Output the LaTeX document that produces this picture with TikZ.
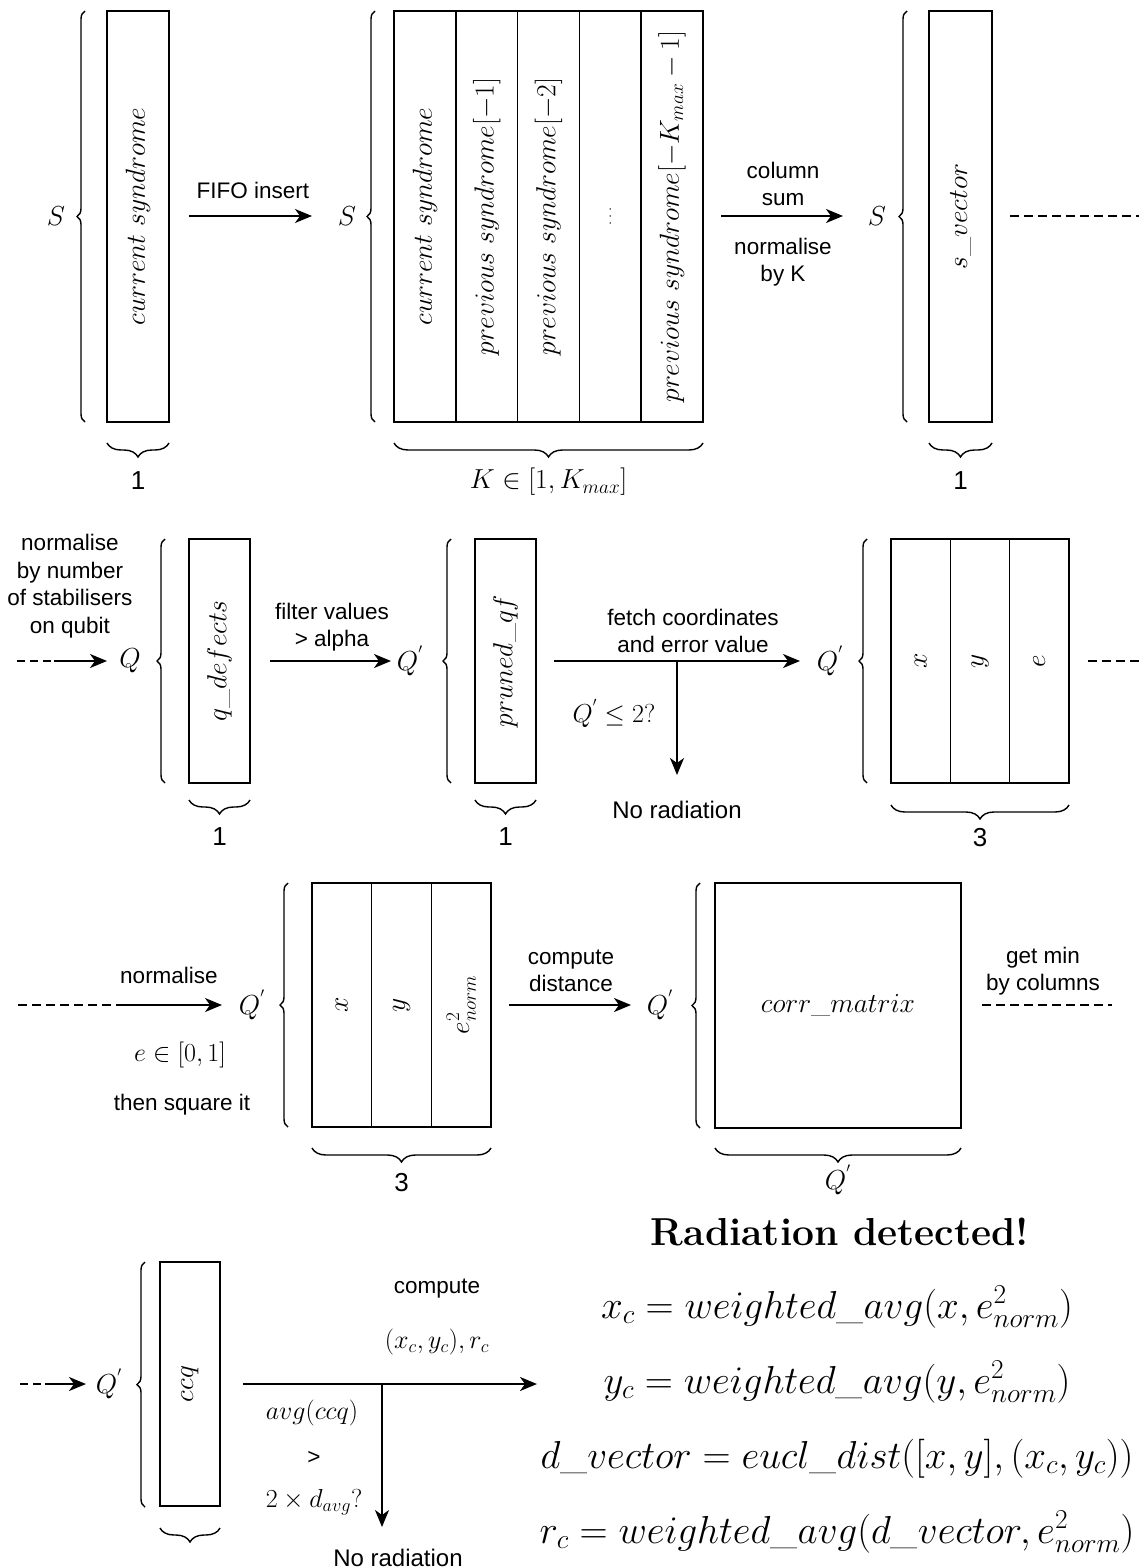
\documentclass[tikz,border=0pt]{standalone}
\usepackage{fix-cm}
\usepackage{fontspec}
\setsansfont{Liberation Sans}
\usetikzlibrary{decorations.pathreplacing,arrows.meta}
\newcommand\mymath{\fontsize{27.5}{32}\selectfont}
\newcommand\mysans{\sffamily\fontsize{22.5}{27.5}\selectfont}
\begin{document}
\begin{tikzpicture}[x=1pt,y=-1pt,
 col/.style 2 args={draw, line width=1.6pt, rotate=90, minimum width=#1pt, minimum height=#2pt, inner sep=0pt, font=\mymath},
 lbr/.style={decorate, decoration={brace, amplitude=8pt}, line width=1.4pt},
 bbr/.style={decorate, decoration={brace, amplitude=14pt}, line width=1.4pt},
 arr/.style={line width=1.8pt, -{Stealth[length=17pt,width=14pt,inset=5pt]}},
 dsh/.style={line width=1.4pt, dash pattern=on 9pt off 5pt},
 lbl/.style={font=\mysans, align=center, inner sep=0pt},
 mlbl/.style={font=\fontsize{26}{30}\selectfont, inner sep=0pt},
 bigm/.style={font=\mymath, inner sep=0pt},
 numl/.style={font=\sffamily\fontsize{26}{30}\selectfont, inner sep=0pt},
 eqn/.style={font=\fontsize{39}{44}\selectfont, inner sep=0pt, anchor=base},
]
\useasboundingbox (0,0) rectangle (1139,1568);

% ---------------- Row 1 ----------------
\node[bigm] (S1) at (56,216.5) {$S$};
\draw[lbr] (85,422) -- (85,11);
\node[col={411}{62}] (cs) at (138,216.5) {$current\ syndrome$};
\draw[bbr] (169,443) -- (107,443);
\node[numl] (one1) at (138,481) {1};

\coordinate (f1) at (189,216);
\coordinate (f2) at (312,216);
\draw[arr] (f1) -- (f2);
\node[lbl] (fifo) at (253,190) {FIFO insert};

\node[bigm] (S2) at (347,216.5) {$S$};
\draw[lbr] (375,422) -- (375,11);
\node[col={411}{61.8}] (k1) at (424.9,216.5) {$current\ syndrome$};
\node[col={411}{61.8}] (k2) at (486.7,216.5) {$previous\ syndrome[-1]$};
\node[col={411}{61.8}] (k3) at (548.5,216.5) {$previous\ syndrome[-2]$};
\node[col={411}{61.8}, font=\fontsize{15}{18}\selectfont] (k4) at (610.3,216.5) {$\dots$};
\node[col={411}{61.8}] (k5) at (672.1,216.5) {$previous\ syndrome[-K_{max}-1]$};
\draw[bbr] (703,443) -- (394,443);
\node[bigm] (kl) at (548.5,482) {$K\in[1,K_{max}]$};

\coordinate (c1) at (721,216);
\coordinate (c2) at (843,216);
\draw[arr] (c1) -- (c2);
\node[lbl] (colsum) at (783,184) {column\\sum};
\node[lbl] (normk) at (783,262) {normalise\\by K};

\node[bigm] (S3) at (877,216.5) {$S$};
\draw[lbr] (907,422) -- (907,11);
\node[col={411}{63}] (sv) at (960.5,216.5) {$s\_vector$};
\draw[bbr] (992,443) -- (929,443);
\node[numl] (one2) at (960.5,481) {1};
\coordinate (d1a) at (1010,216);
\coordinate (d1b) at (1139,216);
\draw[dsh] (d1a) -- (d1b);

% ---------------- Row 2 ----------------
\node[lbl] (nbn) at (70,586) {normalise\\by number\\of stabilisers\\on qubit};
\coordinate (d2a) at (17,661);
\coordinate (d2b) at (54,661);
\coordinate (d2c) at (107,661);
\draw[dsh, dash pattern=on 8pt off 5pt] (d2a) -- (d2b);
\draw[arr] (d2b) -- (d2c);
\node[bigm] (Q1) at (130,661) {$Q$};
\draw[lbr] (165,783) -- (165,539);
\node[col={244}{61}] (qd) at (219.5,661) {$q\_defects$};
\draw[bbr] (250,800) -- (189,800);
\node[numl] (one3) at (219.5,837) {1};

\coordinate (fv1) at (270,661);
\coordinate (fv2) at (391,661);
\draw[arr] (fv1) -- (fv2);
\node[lbl] (filt) at (332,627) {filter values\\> alpha};

\node[bigm] (Q2) at (410,661) {$Q^{'}$};
\draw[lbr] (451,783) -- (451,539);
\node[col={244}{61}] (pq) at (505.5,661) {$pruned\_qf$};
\draw[bbr] (536,800) -- (475,800);
\node[numl] (one4) at (505.5,837) {1};

\coordinate (fc1) at (554,661);
\coordinate (fc2) at (800,661);
\coordinate (br1) at (677,661);
\coordinate (br1e) at (677,775);
\draw[arr] (fc1) -- (fc2);
\draw[arr] (br1) -- (br1e);
\node[lbl] (fetch) at (693,631) {fetch coordinates\\and error value};
\node[mlbl] (cond1) at (614,713) {$Q^{'}\leq 2?$};
\node[lbl, font=\sffamily\fontsize{24}{28}\selectfont] (nr1) at (677,810) {No radiation};

\node[bigm] (Q3) at (830,661) {$Q^{'}$};
\draw[lbr] (867,783) -- (867,539);
\node[col={244}{59.33}] (x1) at (920.7,661) {$x$};
\node[col={244}{59.33}] (y1) at (980,661) {$y$};
\node[col={244}{59.33}] (e1) at (1039.3,661) {$e$};
\draw[bbr] (1069,805) -- (891,805);
\node[numl] (three1) at (980,838) {3};
\coordinate (d3a) at (1088,661);
\coordinate (d3b) at (1139,661);
\draw[dsh] (d3a) -- (d3b);

% ---------------- Row 3 ----------------
\coordinate (d4a) at (18,1005);
\coordinate (d4b) at (118,1005);
\coordinate (d4c) at (222,1005);
\draw[dsh] (d4a) -- (d4b);
\draw[arr] (d4b) -- (d4c);
\node[lbl] (norm2) at (169,975) {normalise};
\node[mlbl] (erng) at (180,1055) {$e\in[0,1]$};
\node[lbl] (sq) at (182,1105) {then square it};

\node[bigm] (Q4) at (252,1005) {$Q^{'}$};
\draw[lbr] (288,1127) -- (288,883);
\node[col={244}{59.67}] (x2) at (341.8,1005) {$x$};
\node[col={244}{59.67}] (y2) at (401.5,1005) {$y$};
\node[col={244}{59.67}] (e2) at (461.2,1005) {$e^2_{norm}$};
\draw[bbr] (491,1148) -- (312,1148);
\node[numl] (three2) at (401.5,1183) {3};

\coordinate (cd1) at (509,1005);
\coordinate (cd2) at (631,1005);
\draw[arr] (cd1) -- (cd2);
\node[lbl] (cdist) at (571,971) {compute\\distance};

\node[bigm] (Q5) at (660,1005) {$Q^{'}$};
\draw[lbr] (700,1128) -- (700,883);
\node[draw, line width=1.6pt, minimum width=246pt, minimum height=245pt, inner sep=0pt, font=\mymath] (cm) at (838,1005.5) {$corr\_matrix$};
\draw[bbr] (961,1148) -- (715,1148);
\node[bigm] (Q6) at (838,1180) {$Q^{'}$};

\node[lbl] (gmin) at (1043,971) {get min\\by columns};
\coordinate (d5a) at (982,1005);
\coordinate (d5b) at (1112,1005);
\draw[dsh] (d5a) -- (d5b);

% ---------------- Row 4 ----------------
\coordinate (d6a) at (20,1384);
\coordinate (d6b) at (45,1384);
\coordinate (d6c) at (86,1384);
\draw[dsh, dash pattern=on 8pt off 5pt] (d6a) -- (d6b);
\draw[arr] (d6b) -- (d6c);
\node[bigm] (Q7) at (109,1384) {$Q^{'}$};
\draw[lbr] (145,1507) -- (145,1262);
\node[col={244}{60}] (ccq) at (190,1384) {$ccq$};
\draw[bbr] (220,1528) -- (160,1528);

\coordinate (m1) at (243,1384);
\coordinate (m2) at (537,1384);
\coordinate (br2) at (382,1384);
\coordinate (br2e) at (382,1527);
\draw[arr] (m1) -- (m2);
\draw[arr] (br2) -- (br2e);
\node[lbl] (comp) at (437,1289) {compute};
\node[mlbl] (xyr) at (437,1342) {$(x_c,y_c),r_c$};
\node[mlbl] (avg) at (312,1413) {$avg(ccq)$};
\node[lbl] (gt) at (314,1458) {>};
\node[mlbl] (davg) at (314,1502) {$2\times d_{avg}?$};
\node[lbl, font=\sffamily\fontsize{24}{28}\selectfont] (nr2) at (398,1558) {No radiation};

\node[font=\bfseries\fontsize{39}{44}\selectfont, inner sep=0pt, anchor=base] (rd) at (840,1245) {Radiation detected!};
\node[eqn] (eq1) at (837,1318) {$x_c = weighted\_avg(x, e^2_{norm})$};
\node[eqn] (eq2) at (837,1393) {$y_c = weighted\_avg(y, e^2_{norm})$};
\node[eqn] (eq3) at (837,1468) {$d\_vector = eucl\_dist([x,y],(x_c,y_c))$};
\node[eqn] (eq4) at (837,1543) {$r_c = weighted\_avg(d\_vector, e^2_{norm})$};
\end{tikzpicture}
\end{document}
